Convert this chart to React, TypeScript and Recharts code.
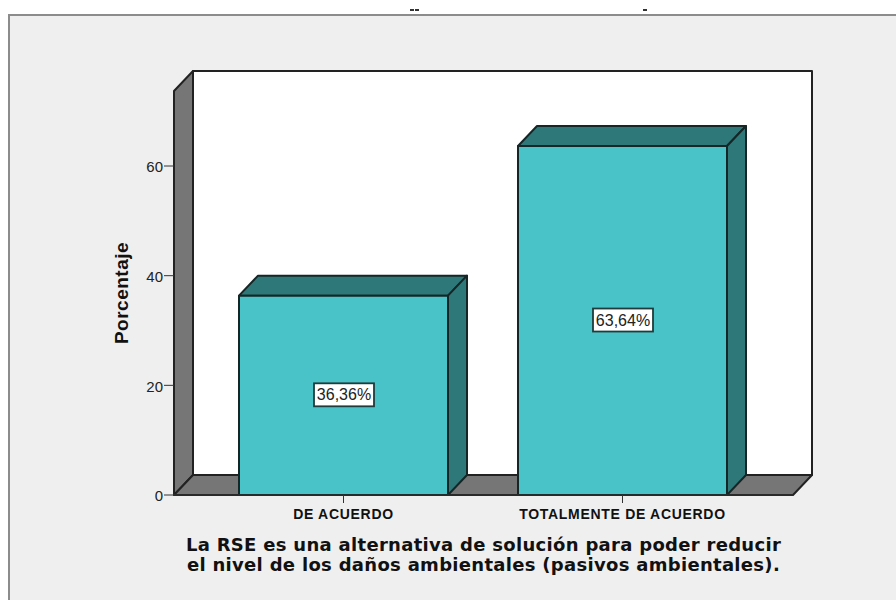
import { BarChart, Bar, XAxis, YAxis, Customized, LabelList, Label } from "recharts";

const categories = ["DE ACUERDO", "TOTALMENTE DE ACUERDO"];
const percentages = [36.36, 63.64];
const valueLabels = ["36,36%", "63,64%"];
const yTicks = [0, 20, 40, 60];
const titleLines = [
  "La RSE es una alternativa de solución para poder reducir",
  "el nivel de los daños ambientales (pasivos ambientales).",
];

const rows = categories.map((name, i) => ({ name, value: percentages[i], label: valueLabels[i] }));

const W = 896;
const H = 600;
const PLOT = { left: 174, top: 91, right: 793, bottom: 495 };
const DX = 19;
const DY = 20;
const AXIS_W = 40;

const BAR = "#49C3C8";
const BAR_DARK = "#2E7879";
const WALL = "#767676";
const EDGE = "#162626";

function Walls() {
  const { left, top, right, bottom } = PLOT;
  return (
    <g stroke="#222" strokeWidth={2} strokeLinejoin="round">
      <rect x={left + DX} y={top - DY} width={right - left} height={bottom - top} fill="#fff" />
      <polygon
        points={`${left},${top} ${left + DX},${top - DY} ${left + DX},${bottom - DY} ${left},${bottom}`}
        fill={WALL}
      />
      <polygon
        points={`${left},${bottom} ${left + DX},${bottom - DY} ${right + DX},${bottom - DY} ${right},${bottom}`}
        fill={WALL}
      />
    </g>
  );
}

function Box3D({ x, y, width, height }: any) {
  return (
    <g stroke={EDGE} strokeWidth={2} strokeLinejoin="round">
      <polygon
        points={`${x},${y} ${x + DX},${y - DY} ${x + width + DX},${y - DY} ${x + width},${y}`}
        fill={BAR_DARK}
      />
      <polygon
        points={`${x + width},${y} ${x + width + DX},${y - DY} ${x + width + DX},${y + height - DY} ${x + width},${y + height}`}
        fill={BAR_DARK}
      />
      <rect x={x} y={y} width={width} height={height} fill={BAR} />
    </g>
  );
}

function ValueBox({ x, y, width, height, value }: any) {
  const cx = x + width / 2;
  const cy = y + height / 2;
  return (
    <g>
      <rect x={cx - 29.5} y={cy - 12} width={60} height={23} fill="#fff" stroke="#1f3b3b" strokeWidth={1.8} />
      <text x={cx + 0.5} y={cy + 5} textAnchor="middle" fontSize={16} fontFamily="Liberation Sans" fill="#222">
        {value}
      </text>
    </g>
  );
}

export default function App() {
  const titleStyle = { fontSize: 18, fontWeight: 700, fontFamily: "DejaVu Sans", fill: "#111", letterSpacing: 0.3 };
  return (
    <div style={{ position: "absolute", left: 0, top: 0, width: W, height: H, overflow: "hidden", background: "#fff" }}>
      <div
        style={{
          position: "absolute",
          left: 8,
          top: 14,
          width: W,
          height: H,
          background: "#EFEFEF",
          borderTop: "2px solid #8c8c8c",
          borderLeft: "2px solid #8c8c8c",
        }}
      />
      <div style={{ position: "absolute", left: 410, top: 9, width: 4, height: 2, background: "#333" }} />
      <div style={{ position: "absolute", left: 415, top: 9, width: 4, height: 2, background: "#333" }} />
      <div style={{ position: "absolute", left: 643, top: 9, width: 4, height: 2, background: "#333" }} />
      <div style={{ position: "absolute", left: 0, top: 0 }}>
        <BarChart
          width={W}
          height={H}
          data={rows}
          margin={{ top: PLOT.top, left: PLOT.left - AXIS_W, right: W - PLOT.right, bottom: 0 }}
        >
          <Customized component={Walls} />
          <XAxis
            dataKey="name"
            height={H - PLOT.bottom}
            padding={{ left: 30, right: 31 }}
            interval={0}
            stroke="#333"
            tickSize={8}
            tickMargin={6}
            tick={{ fontSize: 14, fontWeight: 700, fontFamily: "Liberation Sans", fill: "#111", letterSpacing: 0.7 }}
          >
            <Label value={titleLines[0]} position="insideBottom" offset={49} style={titleStyle} />
            <Label value={titleLines[1]} position="insideBottom" offset={29} style={titleStyle} />
          </XAxis>
          <YAxis
            width={AXIS_W}
            domain={[0, 73.68]}
            ticks={yTicks}
            stroke="#333"
            axisLine={false}
            tickSize={10}
            tickMargin={1}
            tick={{ fontSize: 15, fontFamily: "Liberation Sans", fill: "#222", dy: 1 }}
            label={{
              value: "Porcentaje",
              angle: -90,
              position: "left",
              offset: 13,
              style: {
                fontSize: 19,
                fontWeight: 700,
                fontFamily: "Liberation Sans",
                fill: "#111",
                textAnchor: "middle",
                letterSpacing: 0.5,
              },
            }}
          />
          <Bar dataKey="value" barSize={209} shape={Box3D} isAnimationActive={false}>
            <LabelList dataKey="label" content={ValueBox} />
          </Bar>
        </BarChart>
      </div>
    </div>
  );
}
